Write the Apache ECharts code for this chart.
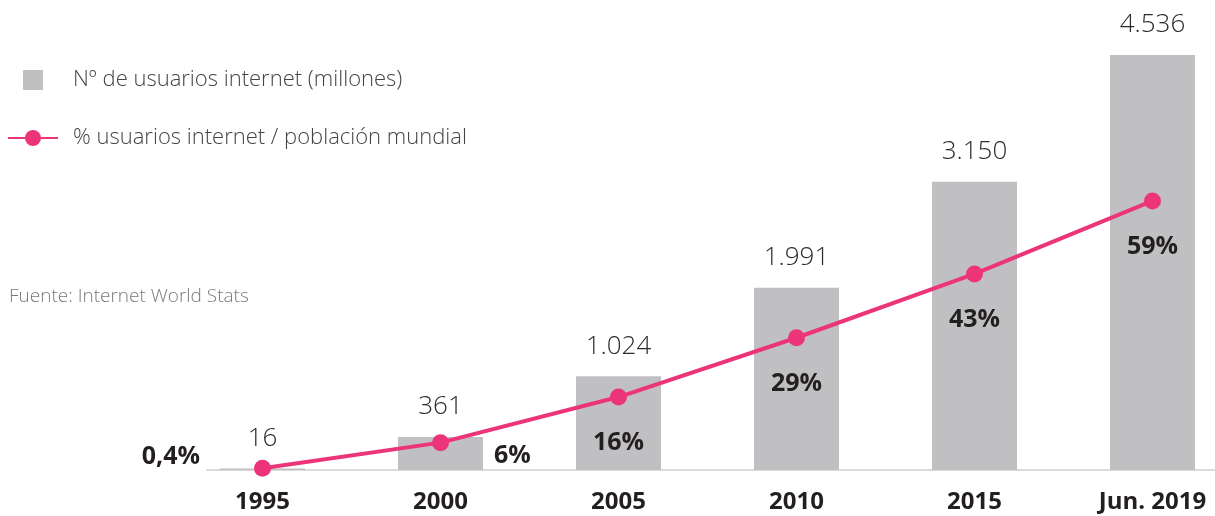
<!DOCTYPE html>
<html>
<head>
<meta charset="utf-8">
<script src="https://cdn.jsdelivr.net/npm/echarts@6/dist/echarts.min.js"></script>
<style>
  html, body { margin: 0; padding: 0; background: #fff; }
  #chart { width: 1215px; height: 516px; }
</style>
</head>
<body>
<div id="chart"></div>
<script>
// datos
const years = ["1995", "2000", "2005", "2010", "2015", "Jun. 2019"];
const usuarios = [16, 361, 1024, 1991, 3150, 4536]; // millones
const porcentaje = [0.4, 6, 16, 29, 43, 59]; // % poblacion mundial
const usuariosLabels = ["16", "361", "1.024", "1.991", "3.150", "4.536"];
const porcentajeLabels = ["0,4%", "6%", "16%", "29%", "43%", "59%"];

const gris = "#c0c0c2";
const rosa = "#ec3579";
const oscuro = "#231f20";
const fuente = "'Open Sans', 'Noto Sans', sans-serif";

const chartDom = document.getElementById("chart");
const myChart = echarts.init(chartDom);

//etiquetas del porcentaje, cada una colocada como en el original
const pctData = porcentaje.map((v, i) => {
  let label = { position: "bottom", distance: 25 };
  if (i === 0) label = { position: "left", distance: 54, offset: [0, -11] };
  if (i === 1) label = { position: "right", distance: 45, offset: [0, 13] };
  return { value: v, label: label };
});

const option = {
  animation: false,
  textStyle: { fontFamily: fuente },
  title: {
    text: "Fuente: Internet World Stats",
    left: 4,
    top: 282,
    textStyle: { fontSize: 19, fontWeight: 300, color: "#7a7a7a", fontFamily: fuente },
  },
  legend: {
    orient: "vertical",
    left: 2,
    top: 64,
    itemWidth: 50,
    itemHeight: 20,
    itemGap: 36,
    textStyle: { fontSize: 22, fontWeight: 300, color: "#444", fontFamily: fuente, padding: [0, 0, 0, 10] },
    data: [
      { name: "Nº de usuarios internet (millones)", icon: "path://M0,0h1v1h-1z" },
      { name: "% usuarios internet / población mundial" },
    ],
  },
  grid: { left: 173.5, width: 1068, top: 55, bottom: 46, outerBoundsMode: "none" },
  xAxis: {
    type: "category",
    data: years,
    axisLine: { show: false },
    axisTick: { show: false },
    axisLabel: { margin: 20, fontSize: 24, fontWeight: "bold", color: oscuro, fontFamily: fuente },
  },
  yAxis: [
    { type: "value", min: 0, max: 4536, show: false },
    { type: "value", min: 0, max: 91, show: false },
  ],
  series: [
    {
      name: "Nº de usuarios internet (millones)",
      type: "bar",
      barWidth: 85,
      yAxisIndex: 0,
      itemStyle: { color: gris },
      label: {
        show: true,
        position: "top",
        distance: 17,
        fontSize: 26,
        fontWeight: 300,
        color: "#2b2b2b",
        fontFamily: fuente,
        formatter: (p) => usuariosLabels[p.dataIndex],
      },
      data: usuarios,
    },
    {
      name: "% usuarios internet / población mundial",
      type: "line",
      yAxisIndex: 1,
      symbol: "circle",
      symbolSize: 17,
      z: 5,
      lineStyle: { color: rosa, width: 4 },
      itemStyle: { color: rosa },
      label: {
        show: true,
        fontSize: 25,
        fontWeight: "bold",
        color: oscuro,
        fontFamily: fuente,
        formatter: (p) => porcentajeLabels[p.dataIndex],
      },
      data: pctData,
    },
  ],
};
myChart.setOption(option);

//linea base, empieza un poco antes de la primera barra
const baseY = myChart.convertToPixel({ yAxisIndex: 0 }, 0);
myChart.setOption({
  graphic: [
    {
      type: "line",
      z: 1,
      shape: { x1: 206, y1: baseY, x2: 1215, y2: baseY },
      style: { stroke: "#cfcfcf", lineWidth: 1.5 },
    },
  ],
});
</script>
</body>
</html>
